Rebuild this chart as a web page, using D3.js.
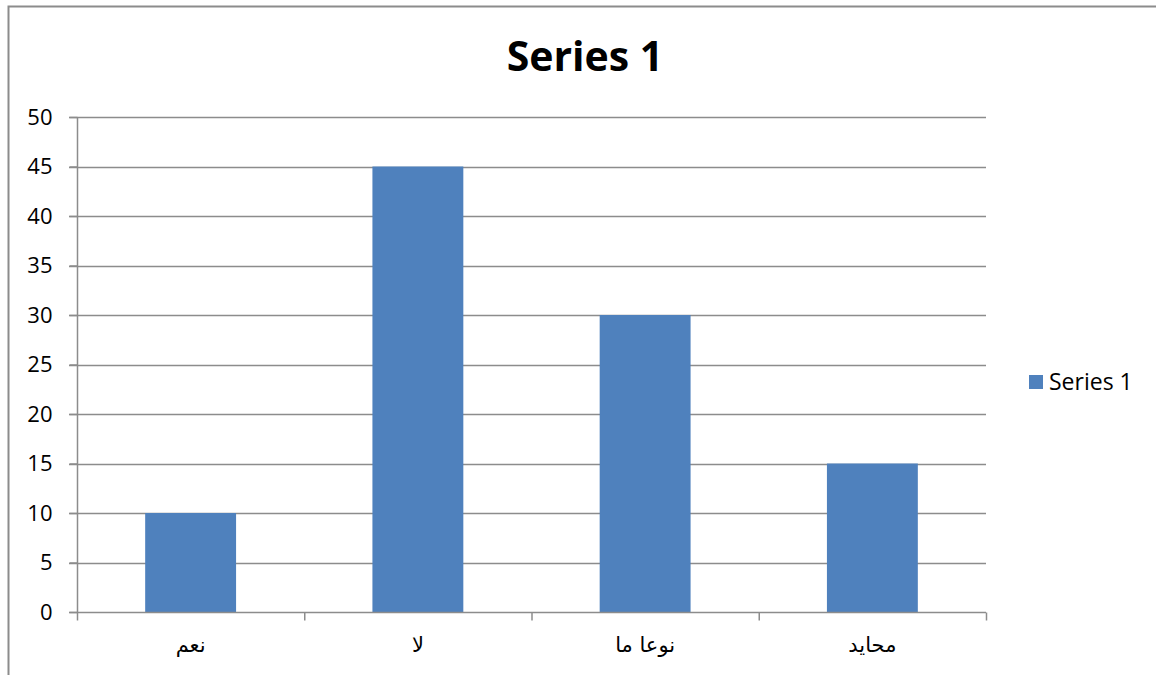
<!DOCTYPE html>
<html>
<head>
<meta charset="utf-8">
<script src="https://cdn.jsdelivr.net/npm/d3@7"></script>
<style>
  body { margin: 0; background: white; }
  svg { display: block; font-family: "Open Sans", "DejaVu Sans", sans-serif; }
</style>
</head>
<body>
<div id="chart"></div>
<script>
const categories = ["نعم", "لا", "نوعا ما", "محايد"];
const values = [10, 45, 30, 15];
const yTicks = [0, 5, 10, 15, 20, 25, 30, 35, 40, 45, 50];
const seriesName = "Series 1";

const width = 1156, height = 675;
const margin = { left: 77, right: 170, top: 117, bottom: 63 };

const svg = d3.select("#chart").append("svg")
    .attr("width", width)
    .attr("height", height);

// outer chart frame (left + top only visible)
svg.append("path")
    .attr("d", `M8.5,${height} L8.5,6.5 L${width},6.5`)
    .attr("fill", "none")
    .attr("stroke", "#8c8c8c")
    .attr("stroke-width", 2);

const x = d3.scaleBand()
    .domain(categories)
    .range([margin.left, width - margin.right])
    .padding(0);

const y = d3.scaleLinear()
    .domain([0, 50])
    .range([height - margin.bottom, margin.top]);

// gridlines
svg.append("g")
    .selectAll("line")
    .data(yTicks.filter(d => d > 0))
    .join("line")
    .attr("x1", margin.left - 8)
    .attr("x2", width - margin.right)
    .attr("y1", d => Math.round(y(d)) + 0.5)
    .attr("y2", d => Math.round(y(d)) + 0.5)
    .attr("stroke", "#8c8c8c")
    .attr("stroke-width", 1.5);

// bars
const barW = x.bandwidth() * 0.4;
svg.append("g")
    .selectAll("rect")
    .data(values)
    .join("rect")
    .attr("x", (d, i) => x(categories[i]) + (x.bandwidth() - barW) / 2)
    .attr("y", d => y(d))
    .attr("width", barW)
    .attr("height", d => y(0) - y(d))
    .attr("fill", "#4f81bd");

// y axis
const yAxis = svg.append("g")
    .attr("transform", `translate(${margin.left + 0.5},0)`)
    .call(d3.axisLeft(y).tickValues(yTicks).tickSize(8).tickPadding(17));
yAxis.selectAll("line, path").attr("stroke", "#8c8c8c").attr("stroke-width", 1.5);
yAxis.select(".domain").attr("d", `M0,${y(50)}V${y(0)}`);
yAxis.selectAll("text").attr("font-size", 22).attr("fill", "#000")
    .attr("font-family", "Open Sans, sans-serif");

// x axis with ticks at category boundaries
const xg = svg.append("g").attr("transform", `translate(0,${Math.round(y(0)) + 0.5})`);
xg.append("line")
    .attr("x1", margin.left - 8).attr("x2", width - margin.right)
    .attr("stroke", "#8c8c8c").attr("stroke-width", 1.5);
const bounds = categories.map(c => x(c)).concat([width - margin.right]);
xg.selectAll(".tk")
    .data(bounds)
    .join("line")
    .attr("class", "tk")
    .attr("x1", d => d + 0.5).attr("x2", d => d + 0.5)
    .attr("y1", 0).attr("y2", 8)
    .attr("stroke", "#8c8c8c").attr("stroke-width", 1.5);
xg.selectAll("text")
    .data(categories)
    .join("text")
    .attr("x", d => x(d) + x.bandwidth() / 2)
    .attr("y", 39)
    .attr("text-anchor", "middle")
    .attr("font-size", 21)
    .attr("font-family", "DejaVu Sans, sans-serif")
    .attr("direction", "rtl")
    .text(d => d);

// title
svg.append("text")
    .attr("x", 585)
    .attr("y", 71)
    .attr("text-anchor", "middle")
    .attr("font-size", 41)
    .attr("font-weight", "bold")
    .text(seriesName);

// legend
const lg = svg.append("g").attr("transform", "translate(1029,375)");
lg.append("rect").attr("width", 14).attr("height", 14).attr("fill", "#4f81bd");
lg.append("text").attr("x", 20).attr("y", 15).attr("font-size", 23).text(seriesName);
</script>
</body>
</html>
